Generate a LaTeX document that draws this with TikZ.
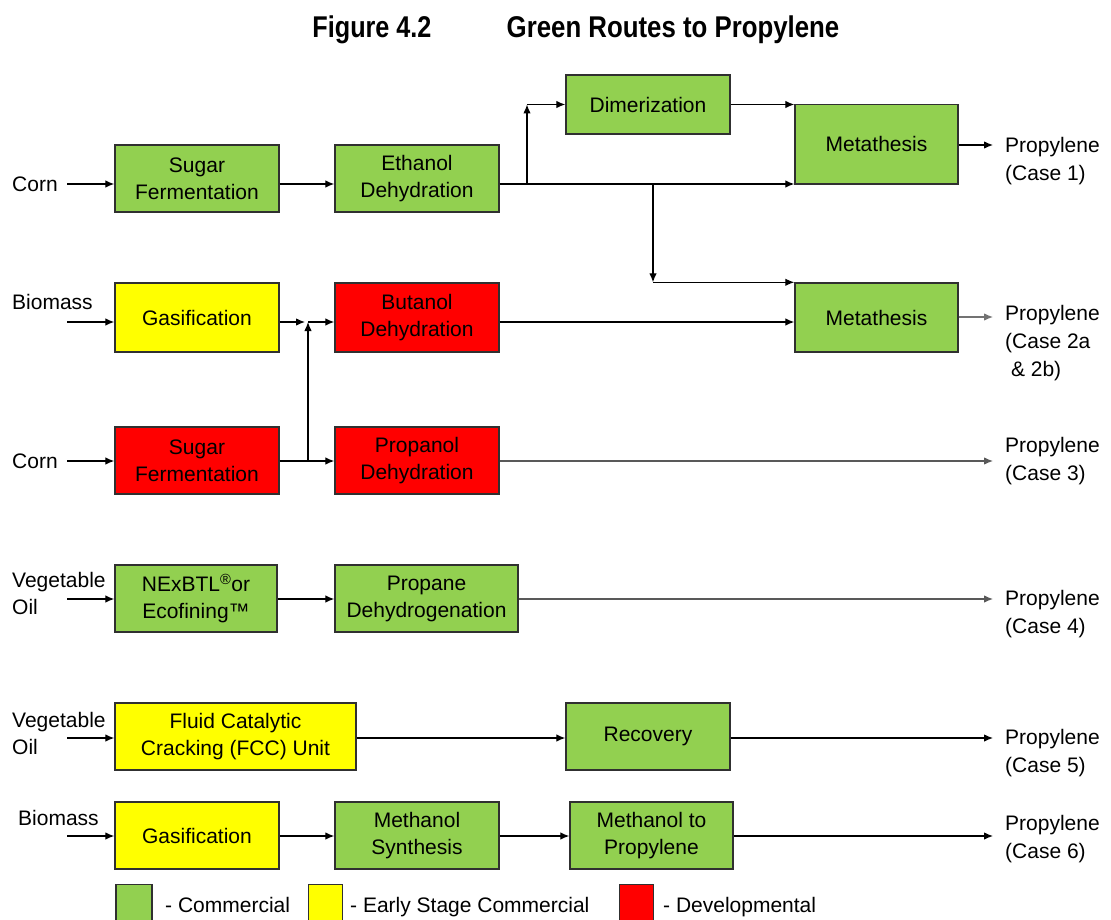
\documentclass[tikz,border=0pt]{standalone}
\usepackage{fontspec}
\setmainfont{Liberation Sans}
\usetikzlibrary{arrows.meta,calc,shadows}
\definecolor{cgreen}{HTML}{92D050}
\definecolor{cyellow}{HTML}{FFFF00}
\definecolor{cred}{HTML}{FF0000}
\definecolor{cborder}{HTML}{303030}
\tikzset{
  procbox/.style={draw=cborder, line width=1.4pt, minimum width=164pt, minimum height=67pt,
    inner sep=0pt, align=center, font=\fontsize{21}{27}\selectfont,
    drop shadow={shadow xshift=1.2pt, shadow yshift=-1.2pt, fill=black, opacity=0.35}},
  gbox/.style={procbox, fill=cgreen},
  ybox/.style={procbox, fill=cyellow},
  rbox/.style={procbox, fill=cred},
  lbl/.style={inner sep=0pt, align=left, font=\fontsize{21}{27}\selectfont},
  prodlbl/.style={inner sep=0pt, align=left, anchor=west, font=\fontsize{21}{28}\selectfont},
  arr/.style={line width=1.2pt, -{Latex[length=9pt,width=7.5pt]}},
  ln/.style={line width=1.2pt},
  legsq/.style={draw=cborder, line width=1.4pt, minimum width=36pt, minimum height=37pt, inner sep=0pt},
  titlefont/.style={inner sep=0pt, font=\fontsize{30}{34}\selectfont\bfseries}
}
\begin{document}
\begin{tikzpicture}[x=1pt,y=-1pt]
\useasboundingbox (0,0) rectangle (1111,920);
% title
\node[titlefont] (t1) at (372,30) {\scalebox{0.84}[1]{Figure 4.2}};
\node[titlefont] (t2) at (673,30) {\scalebox{0.86}[1]{Green Routes to Propylene}};

% boxes
\node[gbox] (sf1) at (197,178.5) {Sugar\\Fermentation};
\node[gbox] (ed) at (417,178.5) {Ethanol\\Dehydration};
\node[gbox, minimum height=59pt] (dim) at (648,104.5) {Dimerization};
\node[gbox, minimum width=163pt, minimum height=79.5pt] (met1) at (876.5,144.25) {Metathesis};

\node[ybox, minimum height=69pt] (gas1) at (197,317.5) {Gasification};
\node[rbox, minimum height=69pt] (bd) at (417,317.5) {Butanol\\Dehydration};
\node[gbox, minimum width=163pt, minimum height=69pt] (met2) at (876.5,317.5) {Metathesis};

\node[rbox] (sf2) at (197,460.5) {Sugar\\Fermentation};
\node[rbox] (pd) at (417,460.5) {Propanol\\Dehydration};

\node[gbox, minimum width=162pt] (nex) at (196,598.5) {NExBTL\textsuperscript{®}or\\Ecofining™};
\node[gbox, minimum width=183pt] (pdh) at (426.5,598.5) {Propane\\Dehydrogenation};

\node[ybox, minimum width=241pt] (fcc) at (235.5,736.5) {Fluid Catalytic\\Cracking (FCC) Unit};
\node[gbox] (rec) at (648,736.5) {Recovery};

\node[ybox] (gas2) at (197,835.5) {Gasification};
\node[gbox] (ms) at (417,835.5) {Methanol\\Synthesis};
\node[gbox, minimum width=163pt] (mtp) at (651.5,835.5) {Methanol to\\Propylene};

% input labels
\node[lbl, anchor=west] (corn1) at (12,184) {Corn};
\node[lbl, anchor=west] (bio1) at (12,302) {Biomass};
\node[lbl, anchor=west] (corn2) at (12,461) {Corn};
\node[lbl, anchor=west] (veg1) at (12,593) {Vegetable\\Oil};
\node[lbl, anchor=west] (veg2) at (12,733) {Vegetable\\Oil};
\node[lbl, anchor=west] (bio2) at (18,818) {Biomass};

% product labels
\node[prodlbl] (p1) at (1005,161) {Propylene\\(Case 1)};
\node[prodlbl] (p2) at (1005,343) {Propylene\\(Case 2a\\\ \& 2b)};
\node[prodlbl] (p3) at (1005,461.5) {Propylene\\(Case 3)};
\node[prodlbl] (p4) at (1005,614) {Propylene\\(Case 4)};
\node[prodlbl] (p5) at (1005,753) {Propylene\\(Case 5)};
\node[prodlbl] (p6) at (1005,839) {Propylene\\(Case 6)};

% coordinates
\coordinate (in1) at (67,184);
\coordinate (in2) at (67,322);
\coordinate (in3) at (67,461);
\coordinate (in4) at (67,599);
\coordinate (in5) at (67,738);
\coordinate (in6) at (67,836);
\coordinate (j1) at (527,184);
\coordinate (j2) at (653,184);
\coordinate (j3) at (308,322);
\coordinate (j4) at (308,461);
\coordinate (o1) at (993,145);
\coordinate (o2) at (993,317);
\coordinate (o3) at (993,461);
\coordinate (o4) at (993,599);
\coordinate (o5) at (993,738);
\coordinate (o6) at (993,836);

% row 1
\draw[arr] (in1) -- (in1 -| sf1.west);
\draw[arr] (in1 -| sf1.east) -- (in1 -| ed.west);
\draw[arr] (in1 -| ed.east) -- (in1 -| met1.west);
\draw[arr] (j1) -- (j1 |- dim.west);
\draw[arr] (j1 |- dim.west) -- (dim.west);
\draw[arr] (dim.east) -- (dim.east -| met1.west);
\draw[arr] (j2) -- (j2 |- met2.north west);
\draw[arr] (j2 |- met2.north west) -- (met2.north west);
\draw[arr] (met1.east |- o1) -- (o1);

% row 2
\draw[arr] (in2) -- (in2 -| gas1.west);
\draw[arr, shorten >=3pt] (in2 -| gas1.east) -- (j3);
\draw[arr] (j3) -- (in2 -| bd.west);
\draw[arr] (in2 -| bd.east) -- (in2 -| met2.west);
\draw[arr, draw=black!55] (met2.east |- o2) -- (o2);

% row 3
\draw[arr] (in3) -- (in3 -| sf2.west);
\draw[ln] (in3 -| sf2.east) -- (j4);
\draw[arr] (j4) -- (j3);
\draw[arr] (j4) -- (in3 -| pd.west);
\draw[arr, draw=black!65] (in3 -| pd.east) -- (o3);

% row 4
\draw[arr] (in4) -- (in4 -| nex.west);
\draw[arr] (in4 -| nex.east) -- (in4 -| pdh.west);
\draw[arr, draw=black!65] (in4 -| pdh.east) -- (o4);

% row 5
\draw[arr] (in5) -- (in5 -| fcc.west);
\draw[arr] (in5 -| fcc.east) -- (in5 -| rec.west);
\draw[arr] (in5 -| rec.east) -- (o5);

% row 6
\draw[arr] (in6) -- (in6 -| gas2.west);
\draw[arr] (in6 -| gas2.east) -- (in6 -| ms.west);
\draw[arr] (in6 -| ms.east) -- (in6 -| mtp.west);
\draw[arr] (in6 -| mtp.east) -- (o6);

% legend
\node[legsq, fill=cgreen] (lg) at (134,903) {};
\node[lbl, anchor=base west] (lgt) at (165,912) {- Commercial};
\node[legsq, fill=cyellow, minimum width=34pt] (ly) at (325.5,903) {};
\node[lbl, anchor=base west] (lyt) at (350,912) {- Early Stage Commercial};
\node[legsq, fill=cred, minimum width=34pt] (lr) at (636.5,903) {};
\node[lbl, anchor=base west] (lrt) at (663,912) {- Developmental};
\end{tikzpicture}
\end{document}
